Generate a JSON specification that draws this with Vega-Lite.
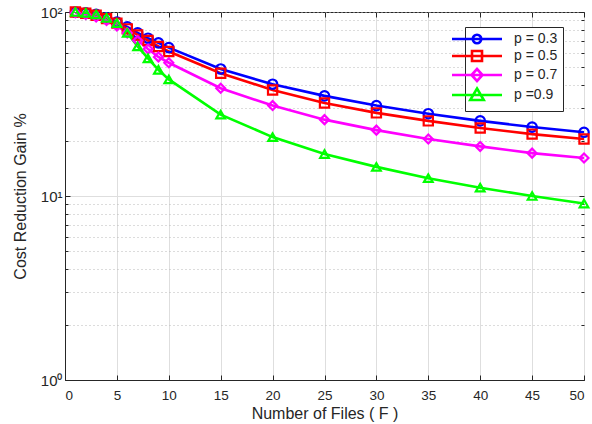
{
  "$schema": "https://vega.github.io/schema/vega-lite/v6.json",
  "width": 519,
  "height": 368,
  "autosize": {"type": "none"},
  "padding": {"left": 65, "top": 12, "right": 8, "bottom": 44},
  "background": "white",
  "config": {
    "font": "Liberation Sans",
    "view": {"stroke": "#262626", "strokeWidth": 1},
    "axis": {
      "domainColor": "#262626",
      "tickColor": "#262626"
    },
    "legend": {
      "symbolStrokeWidth": 2.6,
      "symbolOpacity": 1,
      "symbolFillColor": "transparent"
    }
  },
  "data": {
    "values": [
      {"F": 1, "p": "p = 0.3", "v": 100}, {"F": 2, "p": "p = 0.3", "v": 99}, {"F": 3, "p": "p = 0.3", "v": 97}, {"F": 4, "p": "p = 0.3", "v": 93}, {"F": 5, "p": "p = 0.3", "v": 88}, {"F": 6, "p": "p = 0.3", "v": 83}, {"F": 7, "p": "p = 0.3", "v": 77}, {"F": 8, "p": "p = 0.3", "v": 72}, {"F": 9, "p": "p = 0.3", "v": 68}, {"F": 10, "p": "p = 0.3", "v": 64}, {"F": 15, "p": "p = 0.3", "v": 49}, {"F": 20, "p": "p = 0.3", "v": 40.5}, {"F": 25, "p": "p = 0.3", "v": 35}, {"F": 30, "p": "p = 0.3", "v": 31}, {"F": 35, "p": "p = 0.3", "v": 28}, {"F": 40, "p": "p = 0.3", "v": 25.6}, {"F": 45, "p": "p = 0.3", "v": 23.7}, {"F": 50, "p": "p = 0.3", "v": 22.2},
      {"F": 1, "p": "p = 0.5", "v": 100}, {"F": 2, "p": "p = 0.5", "v": 98.5}, {"F": 3, "p": "p = 0.5", "v": 96}, {"F": 4, "p": "p = 0.5", "v": 92}, {"F": 5, "p": "p = 0.5", "v": 87}, {"F": 6, "p": "p = 0.5", "v": 81}, {"F": 7, "p": "p = 0.5", "v": 75}, {"F": 8, "p": "p = 0.5", "v": 70}, {"F": 9, "p": "p = 0.5", "v": 65}, {"F": 10, "p": "p = 0.5", "v": 61}, {"F": 15, "p": "p = 0.5", "v": 46.5}, {"F": 20, "p": "p = 0.5", "v": 37.7}, {"F": 25, "p": "p = 0.5", "v": 32}, {"F": 30, "p": "p = 0.5", "v": 28.3}, {"F": 35, "p": "p = 0.5", "v": 25.6}, {"F": 40, "p": "p = 0.5", "v": 23.4}, {"F": 45, "p": "p = 0.5", "v": 21.7}, {"F": 50, "p": "p = 0.5", "v": 20.4},
      {"F": 1, "p": "p = 0.7", "v": 99}, {"F": 2, "p": "p = 0.7", "v": 97}, {"F": 3, "p": "p = 0.7", "v": 94}, {"F": 4, "p": "p = 0.7", "v": 90}, {"F": 5, "p": "p = 0.7", "v": 84}, {"F": 6, "p": "p = 0.7", "v": 77}, {"F": 7, "p": "p = 0.7", "v": 70}, {"F": 8, "p": "p = 0.7", "v": 63}, {"F": 9, "p": "p = 0.7", "v": 57}, {"F": 10, "p": "p = 0.7", "v": 53}, {"F": 15, "p": "p = 0.7", "v": 38.5}, {"F": 20, "p": "p = 0.7", "v": 31}, {"F": 25, "p": "p = 0.7", "v": 26}, {"F": 30, "p": "p = 0.7", "v": 22.8}, {"F": 35, "p": "p = 0.7", "v": 20.4}, {"F": 40, "p": "p = 0.7", "v": 18.6}, {"F": 45, "p": "p = 0.7", "v": 17.1}, {"F": 50, "p": "p = 0.7", "v": 16.1},
      {"F": 1, "p": "p =0.9", "v": 100}, {"F": 2, "p": "p =0.9", "v": 99}, {"F": 3, "p": "p =0.9", "v": 97}, {"F": 4, "p": "p =0.9", "v": 93}, {"F": 5, "p": "p =0.9", "v": 87}, {"F": 6, "p": "p =0.9", "v": 77}, {"F": 7, "p": "p =0.9", "v": 65}, {"F": 8, "p": "p =0.9", "v": 56}, {"F": 9, "p": "p =0.9", "v": 48.5}, {"F": 10, "p": "p =0.9", "v": 43}, {"F": 15, "p": "p =0.9", "v": 27.7}, {"F": 20, "p": "p =0.9", "v": 20.9}, {"F": 25, "p": "p =0.9", "v": 16.9}, {"F": 30, "p": "p =0.9", "v": 14.4}, {"F": 35, "p": "p =0.9", "v": 12.5}, {"F": 40, "p": "p =0.9", "v": 11.1}, {"F": 45, "p": "p =0.9", "v": 10}, {"F": 50, "p": "p =0.9", "v": 9.1}
    ]
  },
  "layer": [
    {
      "mark": {"type": "line", "strokeWidth": 2.6, "clip": true},
      "encoding": {
        "x": {
          "field": "F", "type": "quantitative",
          "scale": {"domain": [0, 50], "nice": false},
          "axis": {
            "title": "Number of Files ( F )",
            "values": [0, 5, 10, 15, 20, 25, 30, 35, 40, 45, 50],
            "grid": true, "gridColor": "#dedede", "gridWidth": 1,
            "tickSize": -5, "labelPadding": 13, "titlePadding": 4,
            "labelFont": "Liberation Sans", "labelFontSize": 13.5, "labelColor": "#262626",
            "titleFont": "Liberation Sans", "titleFontSize": 16, "titleFontWeight": "normal", "titleColor": "#262626"
          }
        },
        "y": {
          "field": "v", "type": "quantitative",
          "scale": {"type": "log", "domain": [1, 100], "nice": false},
          "axis": {
            "title": "Cost Reduction Gain %",
            "values": [1, 2, 3, 4, 5, 6, 7, 8, 9, 10, 20, 30, 40, 50, 60, 70, 80, 90, 100],
            "labelExpr": "datum.value == 1 ? '10⁰' : datum.value == 10 ? '10¹' : datum.value == 100 ? '10²' : ''",
            "grid": true,
            "gridColor": {"condition": {"test": "datum.value == 10", "value": "#dedede"}, "value": "#b8b8b8"},
            "gridDash": {"condition": {"test": "datum.value == 10", "value": []}, "value": [1, 3]},
            "tickSize": {"condition": {"test": "datum.value == 1 || datum.value == 10 || datum.value == 100", "value": -5}, "value": -3},
            "labelPadding": 8, "titlePadding": 12,
            "labelFont": "Liberation Sans", "labelFontSize": 15, "labelColor": "#262626",
            "titleFont": "Liberation Sans", "titleFontSize": 16, "titleFontWeight": "normal", "titleColor": "#262626"
          }
        },
        "color": {
          "field": "p", "type": "nominal",
          "scale": {"domain": ["p = 0.3", "p = 0.5", "p = 0.7", "p =0.9"], "range": ["#0000ff", "#ff0000", "#ff00ff", "#00ff00"]},
          "legend": null
        }
      }
    },
    {
      "mark": {"type": "point", "filled": false, "strokeWidth": 2.2, "opacity": 1, "clip": false},
      "encoding": {
        "x": {"field": "F", "type": "quantitative", "axis": null},
        "y": {"field": "v", "type": "quantitative", "axis": null},
        "color": {
          "field": "p", "type": "nominal",
          "scale": {"domain": ["p = 0.3", "p = 0.5", "p = 0.7", "p =0.9"], "range": ["#0000ff", "#ff0000", "#ff00ff", "#00ff00"]},
          "legend": null
        },
        "shape": {
          "field": "p", "type": "nominal",
          "scale": {"domain": ["p = 0.3", "p = 0.5", "p = 0.7", "p =0.9"], "range": ["circle", "square", "diamond", "triangle-up"]},
          "legend": null
        },
        "size": {
          "field": "p", "type": "nominal",
          "scale": {"domain": ["p = 0.3", "p = 0.5", "p = 0.7", "p =0.9"], "range": [90, 75, 100, 170]},
          "legend": null
        }
      }
    },
    {
      "mark": {"type": "point", "filled": false, "strokeWidth": 2.6, "opacity": 0},
      "encoding": {
        "x": {"field": "F", "type": "quantitative", "axis": {"orient": "top", "labels": false, "title": null, "grid": false, "domain": false, "tickSize": -5, "values": [0, 5, 10, 15, 20, 25, 30, 35, 40, 45, 50]}},
        "y": {"field": "v", "type": "quantitative", "axis": {"orient": "right", "labels": false, "title": null, "grid": false, "domain": false, "values": [1, 2, 3, 4, 5, 6, 7, 8, 9, 10, 20, 30, 40, 50, 60, 70, 80, 90, 100], "tickSize": {"condition": {"test": "datum.value == 1 || datum.value == 10 || datum.value == 100", "value": -5}, "value": -3}}},
        "color": {
          "field": "p", "type": "nominal",
          "scale": {"domain": ["p = 0.3", "p = 0.5", "p = 0.7", "p =0.9"], "range": ["#0000ff", "#ff0000", "#ff00ff", "#00ff00"]},
          "legend": {
            "title": null,
            "orient": "none",
            "legendX": 400,
            "legendY": 15,
            "direction": "vertical",
            "padding": 5,
            "strokeColor": "#262626",
            "fillColor": "white",
            "labelFont": "Liberation Sans",
            "labelFontSize": 14,
            "labelColor": "#262626",
            "labelOffset": 30,
            "rowPadding": -4,
            "symbolSize": 100,
            "symbolStrokeWidth": 2.6,
            "symbolOpacity": 1
          }
        },
        "shape": {
          "field": "p", "type": "nominal",
          "scale": {"domain": ["p = 0.3", "p = 0.5", "p = 0.7", "p =0.9"], "range": [
            "M-5,0H5M0.85,0A0.85,0.85 0 1 1 -0.85,0A0.85,0.85 0 1 1 0.85,0",
            "M-5,0H5M-1,-1H1V1H-1Z",
            "M-5,0H5M0,-1.2L1.1,0L0,1.2L-1.1,0Z",
            "M-5,0H5M0,-1.3L1.35,1H-1.35Z"
          ]},
          "legend": {
            "title": null,
            "orient": "none",
            "legendX": 400,
            "legendY": 15,
            "direction": "vertical",
            "padding": 5,
            "strokeColor": "#262626",
            "fillColor": "white",
            "labelFont": "Liberation Sans",
            "labelFontSize": 14,
            "labelColor": "#262626",
            "labelOffset": 30,
            "rowPadding": -4,
            "symbolSize": 100,
            "symbolStrokeWidth": 2.6,
            "symbolOpacity": 1
          }
        }
      }
    }
  ],
  "resolve": {
    "scale": {"shape": "independent", "color": "independent"},
    "axis": {"x": "independent", "y": "independent"}
  }
}
